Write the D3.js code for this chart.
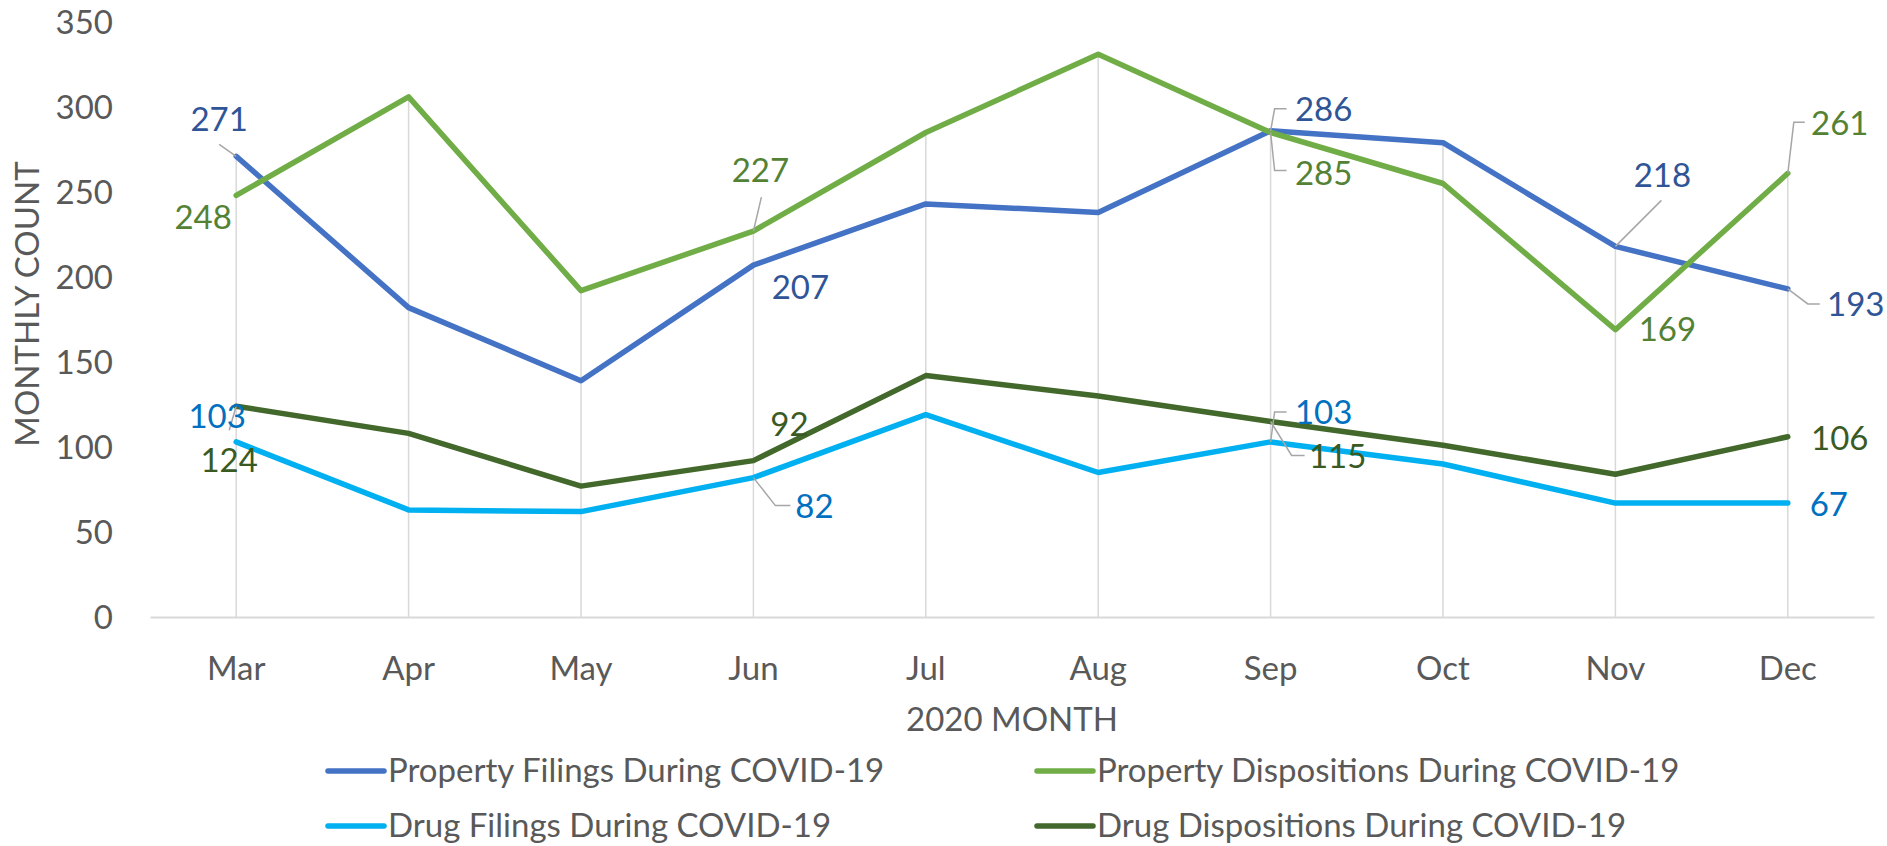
<!DOCTYPE html>
<html>
<head>
<meta charset="utf-8">
<script src="https://cdn.jsdelivr.net/npm/d3@7"></script>
<style>
  body { margin: 0; background: #fff; }
  svg { display: block; font-family: Lato, "Open Sans", sans-serif; }
</style>
</head>
<body>
<div id="chart"></div>
<script>
// chart data
var months = ["Mar", "Apr", "May", "Jun", "Jul", "Aug", "Sep", "Oct", "Nov", "Dec"];
var propertyFilings = [271, 182, 139, 207, 243, 238, 286, 279, 218, 193];
var propertyDispositions = [248, 306, 192, 227, 285, 331, 285, 255, 169, 261];
var drugFilings = [103, 63, 62, 82, 119, 85, 103, 90, 67, 67];
var drugDispositions = [124, 108, 77, 92, 142, 130, 115, 101, 84, 106];
var seriesNames = [
    "Property Filings During COVID-19",
    "Property Dispositions During COVID-19",
    "Drug Filings During COVID-19",
    "Drug Dispositions During COVID-19"
];
var yTicks = [0, 50, 100, 150, 200, 250, 300, 350];

var width = 1887, height = 846;
var margin = { top: 22, right: 13, bottom: 229, left: 150 };
var fontSize = "33px";

var series = [
    { name: seriesNames[0], values: propertyFilings, color: "#4472C4", labelColor: "#2F5597" },
    { name: seriesNames[1], values: propertyDispositions, color: "#70AD47", labelColor: "#548235" },
    { name: seriesNames[2], values: drugFilings, color: "#00B0F0", labelColor: "#0070C0" },
    { name: seriesNames[3], values: drugDispositions, color: "#43682B", labelColor: "#3A5A24" }
];

// where the data labels sit, relative to their point (dx, dy), and leader line bends
var labelLayout = [
    { Mar: [-17, -37, [[-17, -12]]], Jun: [47, 22], Sep: [53, -21, [[4, -22], [16, -22]]], Nov: [47, -71, [[46, -46]]], Dec: [68, 16, [[20, 15], [32, 15]]] },
    { Mar: [-33, 22], Jun: [7, -61, [[8, -34]]], Sep: [53, 41, [[4, 38], [16, 38]]], Nov: [52, 0], Dec: [52, -50, [[6, -51], [17, -51]]] },
    { Mar: [-19, -25], Jun: [61, 29, [[22, 28], [37, 28]]], Sep: [53, -29, [[4, -30], [16, -30]]], Dec: [41, 1] },
    { Mar: [-7, 54, [[-7, 24]]], Jun: [36, -36], Sep: [67, 35, [[21, 34], [34, 34]]], Dec: [52, 2] }
];

var svg = d3.select("#chart").append("svg")
    .attr("width", width)
    .attr("height", height);

var x = d3.scaleBand()
    .domain(months)
    .range([margin.left, width - margin.right])
    .padding(0);

var y = d3.scaleLinear()
    .domain([0, 350])
    .range([height - margin.bottom, margin.top]);

function cx(m) { return x(m) + x.bandwidth() / 2; }

// drop lines from the highest point of each month to the axis
svg.append("g")
    .selectAll("line")
    .data(months)
    .enter().append("line")
    .attr("x1", cx)
    .attr("x2", cx)
    .attr("y1", function (m, i) { return y(d3.max(series, function (s) { return s.values[i]; })); })
    .attr("y2", y(0))
    .attr("stroke", "#D9D9D9")
    .attr("stroke-width", 1.5);

// x axis
var xAxis = svg.append("g")
    .attr("transform", "translate(0," + y(0) + ")")
    .call(d3.axisBottom(x).tickSize(0).tickSizeOuter(0));
xAxis.select(".domain").attr("stroke", "#D9D9D9").attr("stroke-width", 2);
xAxis.selectAll("text")
    .attr("y", 51)
    .attr("dy", "0.35em")
    .attr("fill", "#595959")
    .style("font-size", fontSize)
    .style("font-family", "Lato, 'Open Sans', sans-serif");

// y axis
var yAxis = svg.append("g")
    .attr("transform", "translate(113,0)")
    .call(d3.axisLeft(y).tickValues(yTicks).tickSize(0).tickPadding(0));
yAxis.select(".domain").remove();
yAxis.selectAll("text")
    .attr("dy", "0.35em")
    .attr("fill", "#595959")
    .style("font-size", fontSize)
    .style("font-family", "Lato, 'Open Sans', sans-serif");

// axis titles
svg.append("text")
    .attr("transform", "translate(27,304) rotate(-90)")
    .attr("text-anchor", "middle")
    .attr("dy", "0.35em")
    .attr("fill", "#595959")
    .style("font-size", fontSize)
    .text("MONTHLY COUNT");

svg.append("text")
    .attr("x", (margin.left + width - margin.right) / 2)
    .attr("y", 719)
    .attr("text-anchor", "middle")
    .attr("dy", "0.35em")
    .attr("fill", "#595959")
    .style("font-size", fontSize)
    .text("2020 MONTH");

// lines
var line = d3.line()
    .x(function (d, i) { return cx(months[i]); })
    .y(function (d) { return y(d); });

svg.append("g")
    .selectAll("path")
    .data(series)
    .enter().append("path")
    .attr("d", function (s) { return line(s.values); })
    .attr("fill", "none")
    .attr("stroke", function (s) { return s.color; })
    .attr("stroke-width", 5.5)
    .attr("stroke-linejoin", "round")
    .attr("stroke-linecap", "round");

// data labels + leader lines
var labels = [];
series.forEach(function (s, si) {
    months.forEach(function (m, i) {
        var l = labelLayout[si][m];
        if (!l) return;
        labels.push({ s: s, px: cx(m), py: y(s.values[i]), v: s.values[i], dx: l[0], dy: l[1], lead: l[2] });
    });
});

var lg = svg.append("g");
lg.selectAll("path")
    .data(labels.filter(function (d) { return d.lead; }))
    .enter().append("path")
    .attr("d", function (d) {
        var pts = [[d.px, d.py]].concat(d.lead.map(function (p) { return [d.px + p[0], d.py + p[1]]; }));
        return d3.line()(pts);
    })
    .attr("fill", "none")
    .attr("stroke", "#A6A6A6")
    .attr("stroke-width", 1.5);

lg.selectAll("text")
    .data(labels)
    .enter().append("text")
    .attr("x", function (d) { return d.px + d.dx; })
    .attr("y", function (d) { return d.py + d.dy; })
    .attr("text-anchor", "middle")
    .attr("dy", "0.35em")
    .attr("fill", function (d) { return d.s.labelColor; })
    .style("font-size", fontSize)
    .text(function (d) { return d.v; });

// legend
var legendPos = [[328, 770], [1037, 770], [328, 825], [1037, 825]];
var legend = svg.append("g")
    .selectAll("g")
    .data(series)
    .enter().append("g")
    .attr("transform", function (s, i) { return "translate(" + legendPos[i][0] + "," + legendPos[i][1] + ")"; });

legend.append("line")
    .attr("x1", 0).attr("x2", 56)
    .attr("y1", 1).attr("y2", 1)
    .attr("stroke", function (s) { return s.color; })
    .attr("stroke-width", 5.5)
    .attr("stroke-linecap", "round");

legend.append("text")
    .attr("x", 60)
    .attr("dy", "0.35em")
    .attr("fill", "#595959")
    .style("font-size", fontSize)
    .text(function (s) { return s.name; });
</script>
</body>
</html>
